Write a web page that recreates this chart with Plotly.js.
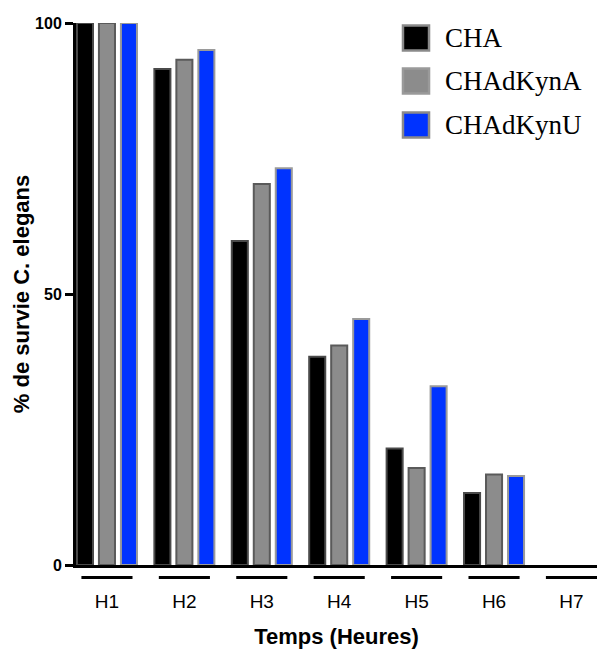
<!DOCTYPE html>
<html>
<head>
<meta charset="utf-8">
<script src="https://cdn.plot.ly/plotly-3.0.1.min.js"></script>
<style>html,body{margin:0;padding:0;background:#fff;}</style>
</head>
<body>
<div id="chart" style="width:597px;height:651px;"></div>
<script>
// ---- data ----
const categories = ["H1", "H2", "H3", "H4", "H5", "H6", "H7"];
const seriesNames = ["CHA", "CHAdKynA", "CHAdKynU"];
const valuesCHA = [100, 91.5, 59.8, 38.4, 21.5, 13.3, 0];
const valuesCHAdKynA = [100, 93.2, 70.3, 40.5, 17.9, 16.7, 0];
const valuesCHAdKynU = [100, 95.0, 73.2, 45.4, 33.0, 16.4, 0];
const fillColors = ["#000000", "#8c8c8c", "#0033ff"];
const lineColors = ["#4a4a4a", "#5a5a5a", "#9a9a9a"];
const legendLineColors = ["#8a8a8a", "#9a9a9a", "#8a8a8a"];
const yTicks = [0, 50, 100];

const allValues = [valuesCHA, valuesCHAdKynA, valuesCHAdKynU];
const xIdx = categories.map((c, i) => i);

const traces = allValues.map((vals, k) => ({
  type: "bar",
  name: seriesNames[k],
  x: xIdx,
  y: vals,
  marker: {
    color: fillColors[k],
    line: { color: lineColors[k], width: vals.map(v => (v > 0 ? 2 : 0)) }
  },
  cliponaxis: false,
  showlegend: false,
  hoverinfo: "x+y+name"
}));

// underline bars under each category label
const shapes = xIdx.map(i => ({
  type: "line", xref: "x", yref: "paper",
  x0: i - 0.33, x1: i + 0.33, y0: -0.023, y1: -0.023,
  line: { color: "#000", width: 3 }
}));

// manual legend (large square swatches like the reference)
const legendY = [0.9723, 0.893, 0.8118];
const annotations = [];
seriesNames.forEach((n, k) => {
  shapes.push({
    type: "rect", xref: "paper", yref: "paper",
    x0: 0.6276, x1: 0.6776, y0: legendY[k] - 0.023, y1: legendY[k] + 0.023,
    fillcolor: fillColors[k], line: { color: legendLineColors[k], width: 2.5 }
  });
  annotations.push({
    xref: "paper", yref: "paper", x: 0.7044, y: legendY[k],
    xanchor: "left", yanchor: "middle", showarrow: false,
    text: n, font: { family: "Liberation Serif, Times New Roman, serif", size: 27, color: "#000" }
  });
});

const layout = {
  width: 597, height: 651,
  margin: { l: 76, r: 0, t: 23, b: 86, pad: 0 },
  paper_bgcolor: "#fff", plot_bgcolor: "#fff",
  barmode: "group", bargap: 0.148, bargroupgap: 0.27,
  showlegend: false,
  font: { family: "Liberation Sans, Arial, sans-serif", color: "#000" },
  xaxis: {
    range: [-0.4, 6.33],
    tickvals: xIdx, ticktext: categories,
    ticks: "", showgrid: false, zeroline: false,
    showline: true, linecolor: "#000", linewidth: 3,
    tickfont: { size: 19, color: "#000" },
    ticklabelstandoff: 17,
    title: { text: "Temps (Heures)", font: { size: 22, weight: "bold", color: "#000" }, standoff: 18 }
  },
  yaxis: {
    range: [0, 100],
    tickvals: yTicks,
    ticks: "outside", ticklen: 8, tickwidth: 3, tickcolor: "#000",
    showgrid: false, zeroline: false,
    showline: true, linecolor: "#000", linewidth: 3,
    tickfont: { size: 16, weight: "bold", color: "#000" },
    title: { text: "% de survie C. elegans", font: { size: 22, weight: "bold", color: "#000" }, standoff: 0 }
  },
  shapes: shapes,
  annotations: annotations
};

Plotly.newPlot("chart", traces, layout, { displayModeBar: false, staticPlot: true });
</script>
</body>
</html>
